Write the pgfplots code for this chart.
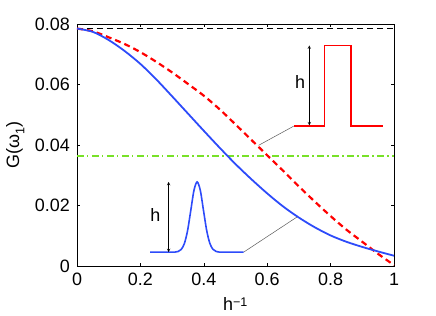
\documentclass[border=0pt]{standalone}
\usepackage{pgfplots}
\pgfplotsset{compat=1.18}
\usepackage{fontspec}
\setmainfont{Liberation Sans}[Scale=1.8]
\definecolor{cblue}{RGB}{45,75,250}
\definecolor{cred}{RGB}{255,0,0}
\definecolor{limegreen}{RGB}{120,225,40}
\begin{document}
\begin{tikzpicture}
\begin{axis}[
  scale only axis,
  width=317bp, height=242bp,
  xmin=0, xmax=1, ymin=0, ymax=0.08,
  scaled y ticks=false, scaled x ticks=false,
  xtick={0,0.2,0.4,0.6,0.8,1},
  xticklabels={0,0.2,0.4,0.6,0.8,1},
  ytick={0,0.02,0.04,0.06,0.08},
  yticklabels={0,0.02,0.04,0.06,0.08},
  tick align=inside,
  tick pos=both,
  major tick length=3bp,
  tick style={black, line width=0.5pt},
  axis line style={black, line width=0.8pt},
  xticklabel style={yshift=-1bp},
  yticklabel style={xshift=-1bp},
  xlabel={h\textsuperscript{−1}},
  ylabel={G(ω\textsubscript{1})},
  x label style={at={(axis description cs:0.5,-0.155)},anchor=center},
  y label style={at={(axis description cs:-0.195,0.5)},anchor=center},
  clip=false,
]
% reference lines
\addplot[black, line width=0.8pt, dash pattern=on 6bp off 4bp] coordinates {(0,0.0785) (1,0.0785)};
\addplot[draw=limegreen, line width=1.4pt, dash pattern=on 7bp off 3bp on 1.5bp off 3.5bp] coordinates {(0,0.0364) (1,0.0364)};
% red dashed curve
\addplot[cred, line width=2.2pt, smooth, dash pattern=on 6bp off 4bp] coordinates {
(0,0.0785) (0.05,0.0776) (0.1,0.0756) (0.15,0.0734) (0.2,0.0707) (0.25,0.0675)
(0.3,0.0640) (0.35,0.0602) (0.4,0.0563) (0.45,0.0518) (0.5,0.0468) (0.55,0.0417)
(0.6,0.0366) (0.65,0.0315) (0.7,0.0263) (0.75,0.0213) (0.8,0.0165) (0.85,0.0120)
(0.9,0.0080) (0.95,0.0040) (1,0.0003)};
% blue solid curve
\addplot[cblue, line width=1.8pt, smooth] coordinates {
(0,0.0785) (0.05,0.0774) (0.1,0.0747) (0.15,0.0711) (0.2,0.0668) (0.25,0.0617)
(0.3,0.0561) (0.35,0.0504) (0.4,0.0447) (0.45,0.0391) (0.5,0.0337) (0.55,0.0287)
(0.6,0.0240) (0.65,0.0197) (0.7,0.0160) (0.75,0.0128) (0.8,0.0101) (0.85,0.0080)
(0.9,0.0063) (0.95,0.0048) (1,0.0034)};
% red inset pulse
\addplot[cred, line width=1.6pt] coordinates {
(0.683,0.0462) (0.781,0.0462) (0.781,0.0729) (0.864,0.0729) (0.864,0.0462) (0.965,0.0462)};
% blue inset gaussian
\addplot[cblue, line width=1.6pt, smooth] coordinates {
(0.231,0.0046) (0.299,0.0046) (0.309,0.0046) (0.319,0.0048) (0.329,0.0055) (0.339,0.0075)
(0.349,0.0118) (0.359,0.0184) (0.369,0.0250) (0.379,0.0278) (0.389,0.0250) (0.399,0.0184)
(0.409,0.0118) (0.419,0.0075) (0.429,0.0055) (0.439,0.0048) (0.449,0.0046) (0.459,0.0046) (0.526,0.0046)};
% connector lines
\addplot[gray!70!black, line width=0.5pt] coordinates {(0.683,0.0462) (0.573,0.0399)};
\addplot[gray!70!black, line width=0.5pt] coordinates {(0.526,0.0046) (0.694,0.0162)};
% arrows
\addplot[black, line width=0.5pt, <->, >=stealth] coordinates {(0.733,0.0729) (0.733,0.0465)};
\addplot[black, line width=0.5pt, <->, >=stealth] coordinates {(0.289,0.0278) (0.289,0.0046)};
\node at (axis cs:0.704,0.0608) {h};
\node at (axis cs:0.247,0.0168) {h};
\end{axis}
\path (current axis.south west) ++(-77bp,-50bp) rectangle ++(436bp,316bp);
\end{tikzpicture}
\end{document}
